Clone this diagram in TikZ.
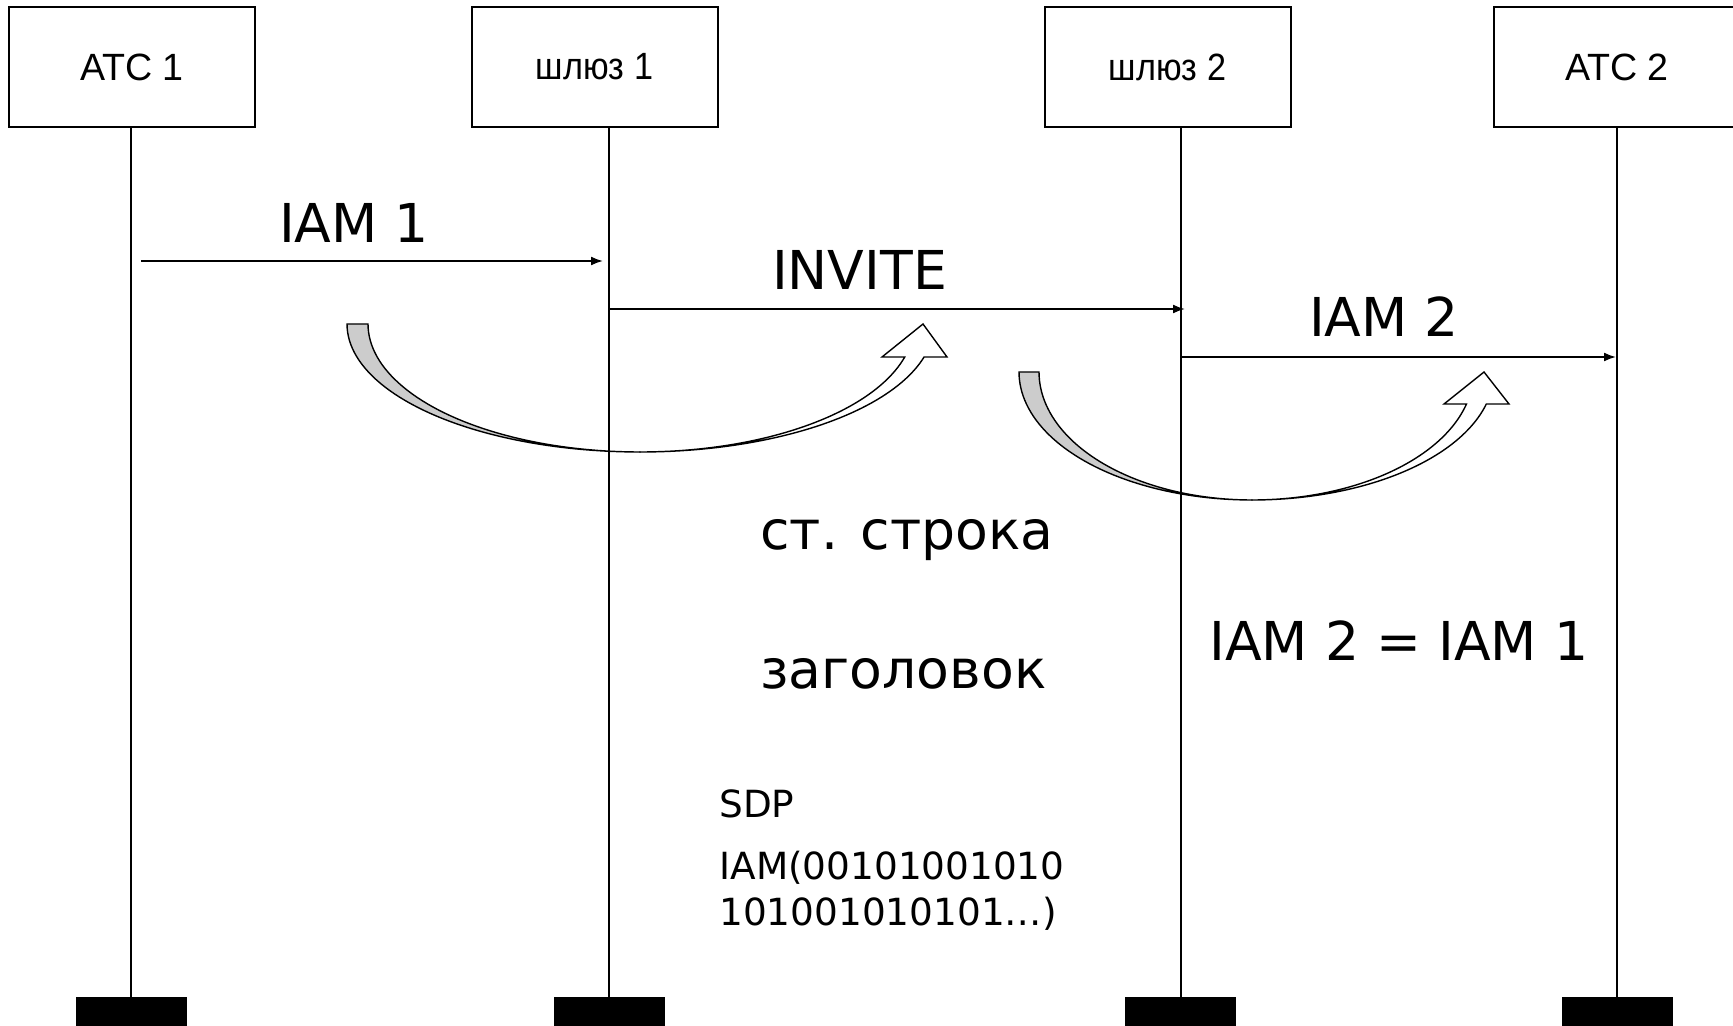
\documentclass[tikz,border=0pt]{standalone}
\usepackage{fontspec}
\usepackage{graphicx}
\setmainfont{DejaVu Sans}
\newfontfamily\boxfont{Liberation Sans}
\usetikzlibrary{arrows.meta}
\definecolor{bandgray}{RGB}{204,204,204}
\tikzset{
  entity/.style={draw, line width=1pt, minimum width=123pt, minimum height=60pt, inner sep=0pt,
    font=\boxfont\fontsize{19}{22}\selectfont},
  endbar/.style={fill=black, draw=none, minimum width=55.5pt, minimum height=21.5pt, inner sep=0pt},
  life/.style={line width=1pt},
  msg/.style={line width=0.9pt, -{Latex[length=6pt,width=4.5pt]}},
  biglbl/.style={inner sep=0pt, font=\fontsize{26.8}{32}\selectfont},
  smalllbl/.style={inner sep=0pt, anchor=base west, font=\fontsize{18.7}{23}\selectfont},
  band/.style={line width=0.7pt, draw=black}
}
\begin{document}
\begin{tikzpicture}[x=0.5pt, y=-0.5pt]
\useasboundingbox (0,0) rectangle (1733,1026);
\clip (0,0) rectangle (1733,1026);

% entity boxes
\node[entity] (atc1) at (132,67) {\scalebox{0.99}[1]{АТС 1}};
\node[entity] (gw1) at (594.5,67) {\scalebox{0.9}[1]{шлюз 1}};
\node[entity] (gw2) at (1167.5,67) {\scalebox{0.9}[1]{шлюз 2}};
\node[entity] (atc2) at (1617,67) {\scalebox{0.99}[1]{АТС 2}};

% end bars
\node[endbar] (bar1) at (131,1018.5) {};
\node[endbar] (bar2) at (609,1018.5) {};
\node[endbar] (bar3) at (1180.5,1018.5) {};
\node[endbar] (bar4) at (1617,1018.5) {};

% curved arrow 1
\filldraw[band, fill=bandgray]
  plot[domain=0:90, samples=50] ({640-293*cos(\x)},{324+128*sin(\x)})
  -- plot[domain=90:0, samples=50] ({640-272*cos(\x)},{324+128*sin(\x)}) -- cycle;
\filldraw[band, fill=white]
  plot[domain=90:165.06, samples=50] ({640-294*cos(\x)},{324+128*sin(\x)})
  -- (947,357) -- (923,324) -- (882,357)
  -- plot[domain=165.06:90, samples=50] ({640-274*cos(\x)},{324+128*sin(\x)}) -- cycle;

% curved arrow 2
\filldraw[band, fill=bandgray]
  plot[domain=0:90, samples=50] ({1252-233*cos(\x)},{372+128*sin(\x)})
  -- plot[domain=90:0, samples=50] ({1252-213*cos(\x)},{372+128*sin(\x)}) -- cycle;
\filldraw[band, fill=white]
  plot[domain=90:165.52, samples=50] ({1252-242*cos(\x)},{372+128*sin(\x)})
  -- (1509,404) -- (1484,372) -- (1444,404)
  -- plot[domain=165.52:90, samples=50] ({1252-221.5*cos(\x)},{372+128*sin(\x)}) -- cycle;

% lifelines
\draw[life] (atc1.south -| bar1) -- (bar1.north);
\draw[life] (gw1.south -| bar2) -- (bar2.north);
\draw[life] (gw2.south -| bar3) -- (bar3.north);
\draw[life] (atc2.south -| bar4) -- (bar4.north);

% messages
\coordinate (m1s) at (141,261);
\coordinate (m1e) at (603,261);
\coordinate (m2s) at (609,309);
\coordinate (m2e) at (1185,309);
\coordinate (m3s) at (1182,357);
\coordinate (m3e) at (1616,357);
\draw[msg] (m1s) -- (m1e);
\draw[msg] (m2s) -- (m2e);
\draw[msg] (m3s) -- (m3e);

% labels
\node[biglbl, anchor=base] (l1) at (354,243) {IAM 1};
\node[biglbl, anchor=base] (l2) at (859.5,290) {INVITE};
\node[biglbl, anchor=base] (l3) at (1384,336) {IAM 2};
\node[biglbl, anchor=base west] (l4) at (760,549) {ст. строка};
\node[biglbl, anchor=base west] (l5) at (760,688) {заголовок};
\node[biglbl, anchor=base west] (l6) at (1209,660) {IAM 2 = IAM 1};
\node[smalllbl] (l7) at (719,817) {SDP};
\node[smalllbl] (l8) at (719,879) {IAM(00101001010};
\node[smalllbl] (l9) at (719,925) {101001010101…)};
\end{tikzpicture}
\end{document}
